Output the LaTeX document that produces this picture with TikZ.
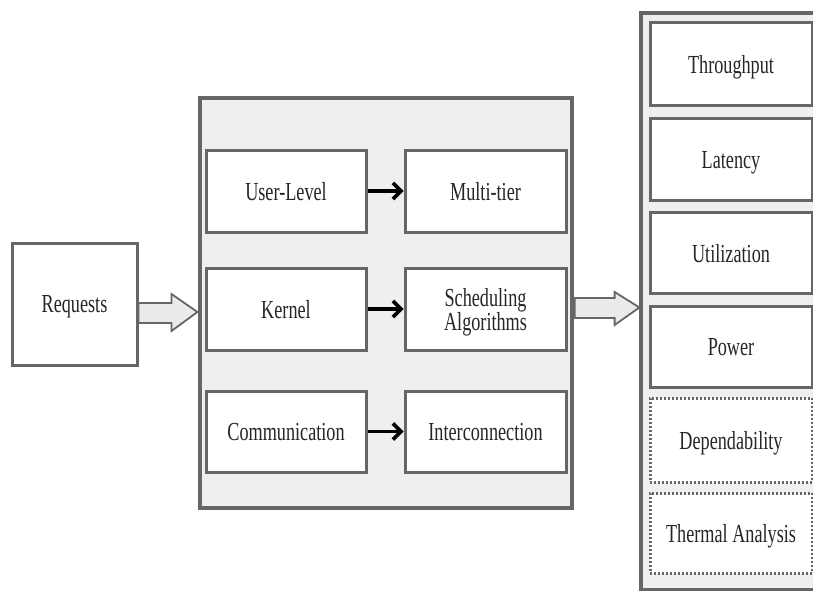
\documentclass[tikz,border=0pt]{standalone}
\usepackage{fontspec}
\setmainfont[FakeStretch=0.7]{Liberation Serif}
\usetikzlibrary{arrows.meta,calc}
\definecolor{edge}{HTML}{666666}
\definecolor{panel}{HTML}{EFEFEF}
\definecolor{afill}{HTML}{EAEAEA}
\definecolor{txt}{HTML}{262626}
\begin{document}
\begin{tikzpicture}[x=1pt,y=-1pt,
  every node/.style={font=\fontsize{26}{24}\selectfont, text=txt, align=center, inner sep=0pt, text depth=0pt},
  box/.style={draw=edge, line width=3pt, fill=white, rectangle},
  dbox/.style={draw=edge, line width=3pt, fill=white, rectangle, dash pattern=on 1.8pt off 2.2pt},
  panelbox/.style={draw=edge, line width=3.2pt, fill=panel, rectangle},
  blockarrow/.style={draw=edge, line width=1.8pt, fill=afill, line join=miter},
  link/.style={line width=3.6pt, black, -{Straight Barb[length=8pt,width=16pt,line width=3.6pt]}}]
\useasboundingbox (0,0) rectangle (813,591);
\fill[white] (0,0) rectangle (813,591);
% containers
\node[panelbox, minimum width=372, minimum height=410] (mid) at (386,303) {};
\node[panelbox, minimum width=190, minimum height=577] (right) at (736,301.5) {};
% left
\node[box, minimum width=125, minimum height=122] (req) at (74.5,304) {Requests};
% middle boxes
\node[box, minimum width=160, minimum height=82] (ul) at (286,191) {User-Level};
\node[box, minimum width=161, minimum height=82] (mt) at (485.5,191) {Multi-tier};
\node[box, minimum width=160, minimum height=82] (k) at (286,309) {Kernel};
\node[box, minimum width=161, minimum height=82] (sa) at (485.5,309) {Scheduling\\Algorithms};
\node[box, minimum width=160, minimum height=81] (c) at (286,431.5) {Communication};
\node[box, minimum width=161, minimum height=81] (ic) at (485.5,431.5) {Interconnection};
% right boxes
\node[box, minimum width=162, minimum height=83] (tp) at (731,64.5) {Throughput};
\node[box, minimum width=162, minimum height=82] (lat) at (731,159.5) {Latency};
\node[box, minimum width=162, minimum height=81] (ut) at (731,253) {Utilization};
\node[box, minimum width=162, minimum height=81] (pw) at (731,346.5) {Power};
\node[dbox, minimum width=162, minimum height=84] (dep) at (731,440) {Dependability};
\node[dbox, minimum width=162, minimum height=80] (th) at (731,533) {Thermal Analysis};
% connectors
\draw[link] (ul.east) -- (mt.west);
\draw[link] (k.east) -- (sa.west);
\draw[link] (c.east) -- (ic.west);
% block arrows
\draw[blockarrow] ($(req.east)+(0,-1)$) -- ++(33,0) -- ++(0,-9) -- ($(mid.west)+(-1,9)$) -- ($(req.east)+(33,27)$) -- ++(0,-8) -- ($(req.east)+(0,19)$) -- cycle;
\draw[blockarrow] ($(mid.east)+(1,-5)$) -- ++(40,0) -- ++(0,-6) -- ($(right.west)+(0,6)$) -- ($(mid.east)+(41,22)$) -- ++(0,-7) -- ($(mid.east)+(1,15)$) -- cycle;
\end{tikzpicture}
\end{document}
